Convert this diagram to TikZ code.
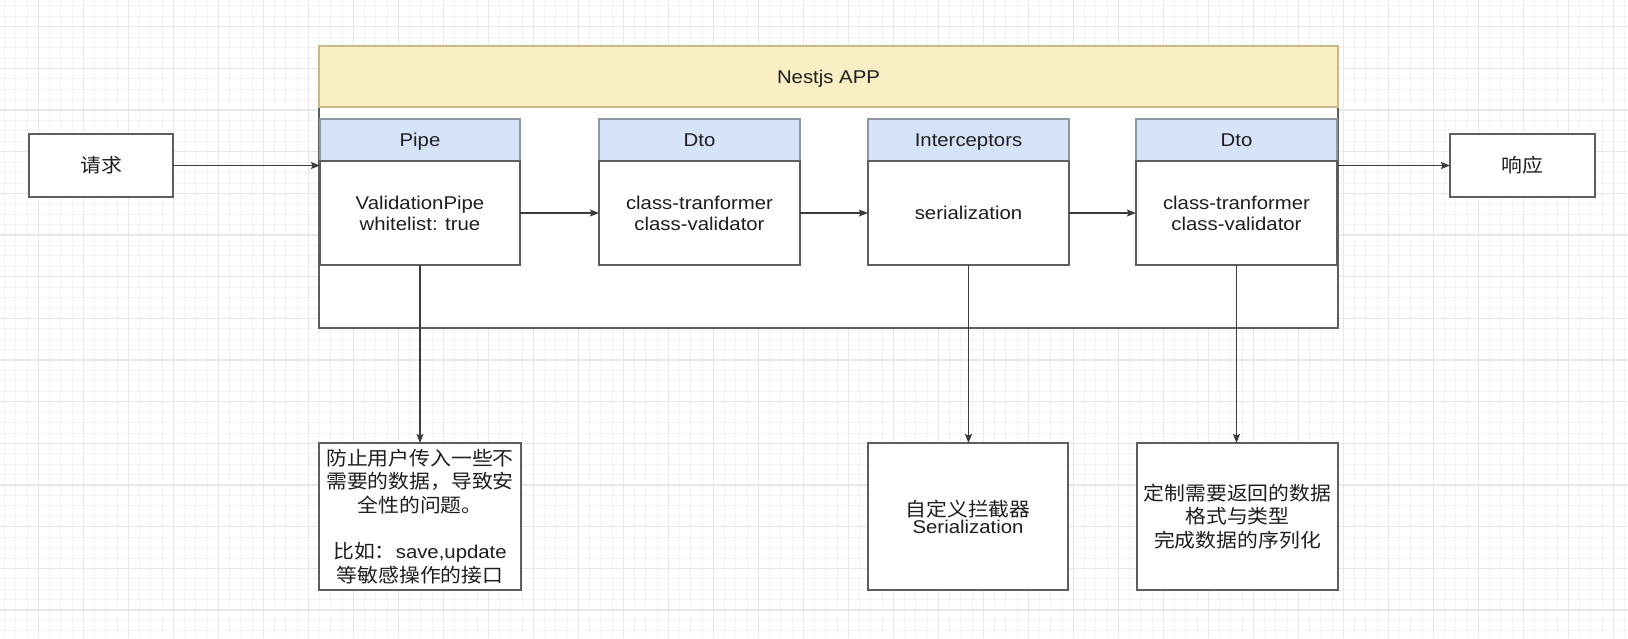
\documentclass[tikz,border=0pt]{standalone}
\usepackage{fontspec}
\setmainfont{Liberation Sans}[FakeStretch=1.1]
\newfontfamily\cjk{Noto Sans CJK SC}[FakeStretch=1.08]
\usetikzlibrary{arrows.meta}
\definecolor{gridmajor}{HTML}{E8E8E8}
\definecolor{gridminor}{HTML}{F4F4F4}
\definecolor{appfill}{HTML}{FAEFC4}
\definecolor{appdraw}{HTML}{C9B98A}
\definecolor{hdrfill}{HTML}{D6E3F8}
\definecolor{hdrdraw}{HTML}{8E96A3}
\definecolor{boxdraw}{HTML}{5E5E5E}
\definecolor{txt}{HTML}{1E1E1E}
\definecolor{wire}{HTML}{3C3C3C}
\begin{document}
\begin{tikzpicture}[x=1pt,y=-1pt,
  every node/.style={inner sep=0pt,outer sep=0pt,text=txt},
  lat/.style={font=\fontsize{18.5}{21}\selectfont},
  zh/.style={font=\cjk\fontsize{19.3}{23.3}\selectfont},
  plainbox/.style={draw=boxdraw,line width=1.4pt,fill=white,anchor=north west,align=center},
  hdrbox/.style={draw=hdrdraw,line width=1.2pt,fill=hdrfill,anchor=north west,align=center,lat,text height=13.3pt,text depth=0pt},
  appbox/.style={draw=appdraw,line width=1.2pt,fill=appfill,anchor=north west,align=center,lat,text height=13.3pt,text depth=0pt},
  flow/.style={draw=wire,line width=1.3pt,-{Stealth[length=9pt,width=7pt,inset=1.5pt]}}
]
\useasboundingbox (0,0) rectangle (1628,638);
\fill[white] (0,0) rectangle (1628,638);
% background grid
\foreach \i in {0,...,148} \draw[gridminor,line width=0.8pt] ({-6.7+\i*11.25},0) -- ({-6.7+\i*11.25},638);
\foreach \j in {0,...,63} \draw[gridminor,line width=0.8pt] (0,{-15+\j*10.4167}) -- (1628,{-15+\j*10.4167});
\foreach \i in {0,...,37} \draw[gridmajor,line width=1.2pt] ({-6.7+\i*45},0) -- ({-6.7+\i*45},638);
\foreach \j in {0,...,16} \draw[gridmajor,line width=1.2pt] (0,{-15+\j*41.667}) -- (1628,{-15+\j*41.667});

% Nestjs app container
\node[plainbox,minimum width=1019pt,minimum height=221pt] (outer) at (319,107) {};
\node[appbox,minimum width=1019pt,minimum height=61pt] (app) at (319,46) {Nestjs APP};

% headers
\node[hdrbox,minimum width=200pt,minimum height=42pt] (pipeh) at (320,119) {Pipe};
\node[hdrbox,minimum width=201pt,minimum height=42pt] (dtoah) at (599,119) {Dto};
\node[hdrbox,minimum width=201pt,minimum height=42pt] (inth) at (868,119) {Interceptors};
\node[hdrbox,minimum width=201pt,minimum height=42pt] (dtobh) at (1136,119) {Dto};

% bodies
\node[plainbox,lat,minimum width=200pt,minimum height=104pt] (pipe) at (320,161) {ValidationPipe\\whitelist: true};
\node[plainbox,lat,minimum width=201pt,minimum height=104pt] (dtoa) at (599,161) {class-tranformer\\class-validator};
\node[plainbox,lat,minimum width=201pt,minimum height=104pt,text height=13.3pt,text depth=0pt] (inter) at (868,161) {serialization};
\node[plainbox,lat,minimum width=201pt,minimum height=104pt] (dtob) at (1136,161) {class-tranformer\\class-validator};

% request / response
\node[plainbox,zh,minimum width=144pt,minimum height=63pt] (req) at (29,134) {请求};
\node[plainbox,zh,minimum width=145pt,minimum height=63pt] (resp) at (1450,134) {响应};

% bottom notes
\node[plainbox,zh,minimum width=202pt,minimum height=147pt] (note1) at (319,443)
  {防止用户传入一些不\\需要的数据，导致安\\全性的问题。\\[23.3pt]比如：{\rmfamily\fontsize{18.5}{23.3}\selectfont save,update}\\等敏感操作的接口};
\node[plainbox,minimum width=200pt,minimum height=147pt] (note2) at (868,443)
  {{\cjk\fontsize{19.3}{23.3}\selectfont 自定义拦截器}\\[1pt]{\fontsize{18.5}{23.3}\selectfont Serialization}};
\node[plainbox,zh,minimum width=201pt,minimum height=147pt] (note3) at (1137,443)
  {定制需要返回的数据\\格式与类型\\完成数据的序列化};

% connectors
\draw[flow] (req.east) -- (req.east -| pipe.west);
\draw[flow] (pipe.east) -- (dtoa.west);
\draw[flow] (dtoa.east) -- (inter.west);
\draw[flow] (inter.east) -- (dtob.west);
\draw[flow] (resp.west -| dtob.east) -- (resp.west);
\draw[flow] (pipe.south) -- (pipe.south |- note1.north);
\draw[flow] (inter.south) -- (inter.south |- note2.north);
\draw[flow] (dtob.south) -- (dtob.south |- note3.north);
\end{tikzpicture}
\end{document}
